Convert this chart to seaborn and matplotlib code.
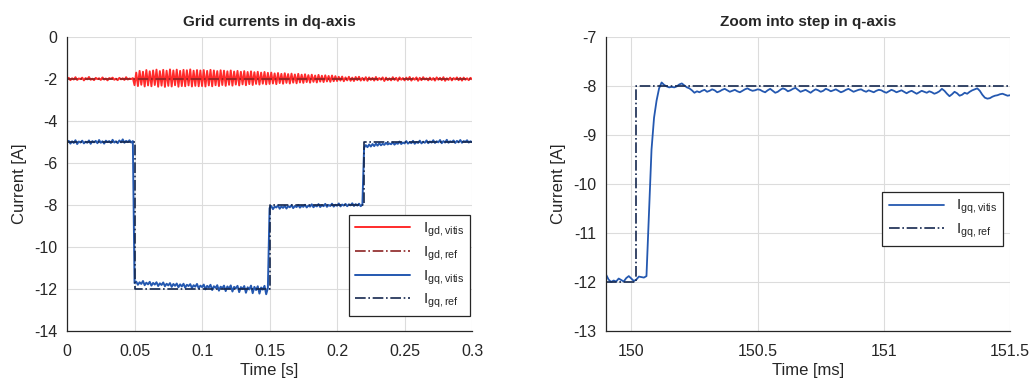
import matplotlib
matplotlib.use("Agg")
import matplotlib.pyplot as plt
import numpy as np
import seaborn as sns

# --- left panel: grid currents in dq-axis, sampled every 1.25 ms from 0 to 0.3 s ---
id_vitis = [
    -2.02, -1.95, -2.06, -1.97, -2.03, -1.92, -2.05, -1.98, -2.01, -1.94, -2.07, -1.96, -2.02, -1.91, -2.04, -1.99, -2.06, -1.95, -2.01, -1.97,
    -2.05, -1.93, -2.03, -1.98, -2.07, -1.96, -2.00, -1.94, -2.04, -1.99, -2.06, -1.95, -2.02, -1.97, -2.05, -1.92, -2.03, -1.98, -2.01, -1.96,
    -2.30, -1.70, -2.34, -1.62, -2.28, -1.66, -2.36, -1.58, -2.31, -1.64, -2.35, -1.60, -2.29, -1.56, -2.37, -1.63, -2.32, -1.57, -2.38, -1.61,
    -2.33, -1.55, -2.36, -1.60, -2.30, -1.56, -2.37, -1.62, -2.34, -1.57, -2.35, -1.59, -2.31, -1.55, -2.36, -1.61, -2.33, -1.58, -2.35, -1.60,
    -2.34, -1.58, -2.36, -1.62, -2.31, -1.57, -2.35, -1.60, -2.30, -1.63, -2.34, -1.59, -2.29, -1.61, -2.33, -1.64, -2.28, -1.60, -2.32, -1.65,
    -2.27, -1.62, -2.31, -1.66, -2.26, -1.63, -2.30, -1.67, -2.25, -1.64, -2.29, -1.68, -2.24, -1.66, -2.27, -1.70, -2.23, -1.67, -2.26, -1.71,
    -2.24, -1.70, -2.22, -1.74, -2.25, -1.72, -2.20, -1.76, -2.23, -1.73, -2.19, -1.77, -2.22, -1.75, -2.18, -1.79, -2.21, -1.76, -2.17, -1.80,
    -2.19, -1.78, -2.15, -1.82, -2.18, -1.80, -2.14, -1.84, -2.17, -1.81, -2.13, -1.85, -2.15, -1.83, -2.12, -1.86, -2.14, -1.84, -2.11, -1.87,
    -2.10, -1.90, -2.08, -1.89, -2.11, -1.93, -2.07, -1.90, -2.09, -1.94, -2.10, -1.91, -2.06, -1.90, -2.08, -1.95, -2.07, -1.92, -2.09, -1.93,
    -2.05, -1.95, -2.08, -1.91, -2.06, -1.96, -2.04, -1.93, -2.10, -1.94, -2.06, -1.97, -2.07, -1.92, -2.05, -1.95, -2.09, -1.93, -2.04, -1.96,
    -2.07, -1.94, -2.05, -1.91, -2.08, -1.96, -2.04, -1.93, -2.09, -1.95, -2.06, -1.92, -2.03, -1.97, -2.07, -1.94, -2.05, -1.96, -2.08, -1.93,
    -2.04, -1.95, -2.06, -1.92, -2.09, -1.97, -2.05, -1.94, -2.07, -1.96, -2.03, -1.93, -2.06, -1.95, -2.08, -1.94, -2.04, -1.97, -2.06, -1.95,
    -2.02,
]
iq_vitis = [
    -5.02, -4.95, -5.08, -4.97, -5.05, -4.92, -5.10, -4.98, -5.03, -4.94, -5.07, -4.99, -5.04, -4.93, -5.09, -4.96, -5.02, -4.95, -5.06, -4.91,
    -5.04, -4.97, -5.08, -4.94, -5.01, -4.96, -5.05, -4.90, -5.03, -4.97, -5.06, -4.93, -5.02, -4.88, -5.04, -4.95, -5.01, -4.92, -5.03, -4.96,
    -11.72, -11.65, -11.80, -11.68, -11.76, -11.62, -11.82, -11.70, -11.78, -11.66, -11.84, -11.71, -11.79, -11.68, -11.86, -11.73, -11.81, -11.69, -11.87, -11.75,
    -11.83, -11.72, -11.90, -11.76, -11.85, -11.74, -11.92, -11.78, -11.88, -11.75, -11.94, -11.80, -11.86, -11.77, -11.95, -11.82, -11.89, -11.76, -11.97, -11.84,
    -11.91, -11.79, -12.02, -11.85, -11.93, -11.80, -12.05, -11.87, -11.95, -11.82, -12.08, -11.89, -11.96, -11.84, -12.10, -11.88, -11.98, -11.83, -12.12, -11.90,
    -11.97, -11.85, -12.15, -11.91, -12.00, -11.86, -12.18, -11.92, -12.02, -11.84, -12.20, -11.90, -12.05, -11.87, -12.22, -11.93, -12.03, -11.85, -12.25, -11.95,
    -8.15, -8.05, -8.20, -8.08, -8.12, -8.02, -8.18, -8.07, -8.14, -8.04, -8.17, -8.06, -8.11, -8.01, -8.15, -8.05, -8.10, -8.00, -8.13, -8.04,
    -8.09, -7.99, -8.12, -8.03, -8.08, -7.97, -8.11, -8.02, -8.07, -7.96, -8.10, -8.01, -8.06, -7.95, -8.09, -8.00, -8.05, -7.94, -8.08, -7.99,
    -8.04, -7.93, -8.07, -7.98, -8.03, -7.95, -8.06, -7.97, -8.02, -7.92, -8.05, -7.96, -8.03, -7.94, -8.06, -7.98,
    -5.28, -5.15, -5.25, -5.12, -5.22, -5.10, -5.20, -5.08, -5.18, -5.06, -5.16, -5.09, -5.14, -5.04, -5.12, -5.07, -5.11, -5.02, -5.13, -5.05,
    -5.09, -4.98, -5.10, -5.03, -5.07, -4.96, -5.08, -5.01, -5.06, -4.95, -5.09, -5.00, -5.05, -4.94, -5.07, -4.99, -5.04, -4.93, -5.06, -4.98,
    -5.03, -4.92, -5.05, -4.97, -5.02, -4.91, -5.06, -4.96, -5.03, -4.90, -5.04, -4.97, -5.01, -4.93, -5.05, -4.95, -5.02, -4.91, -5.04, -4.96,
    -5.00, -4.92, -5.03, -4.97, -5.01,
]
id_ref_t = [0.0, 0.3]
id_ref = [-2.0, -2.0]
iq_ref_t = [0.0, 0.05, 0.05, 0.15, 0.15, 0.22, 0.22, 0.3]
iq_ref = [-5, -5, -12, -12, -8, -8, -5, -5]

# --- right panel: zoom into the q-axis step, sampled every 0.01 ms from 149.9 to 151.5 ms ---
iq_zoom = [
    -11.85, -11.95, -12.00, -11.97, -11.99, -11.93, -11.96, -11.99, -11.92, -11.88,
    -11.93, -11.98, -11.95, -11.89, -11.90, -11.91, -11.88, -10.60, -9.30, -8.65,
    -8.30, -8.05, -7.93, -7.98, -8.01, -8.03, -8.02, -8.03, -8.01, -7.97,
    -7.95, -7.99, -8.03, -8.05, -8.09, -8.14, -8.11, -8.13,
    -8.10, -8.08, -8.12, -8.10, -8.07, -8.09, -8.13, -8.11, -8.08, -8.06, -8.09, -8.12,
    -8.10, -8.08, -8.11, -8.13, -8.10, -8.07, -8.05, -8.08, -8.10, -8.09, -8.07,
    -8.08, -8.11, -8.13, -8.09, -8.06, -8.10, -8.14, -8.12, -8.08, -8.05,
    -8.07, -8.11, -8.09, -8.06, -8.04, -8.08, -8.12, -8.10, -8.08, -8.11,
    -8.14, -8.10, -8.07, -8.09, -8.12, -8.10, -8.06, -8.08, -8.11, -8.09,
    -8.07, -8.10, -8.13, -8.11, -8.08, -8.06, -8.09, -8.12, -8.10, -8.08,
    -8.07, -8.10, -8.12, -8.09, -8.11, -8.13, -8.10, -8.08, -8.09, -8.12,
    -8.14, -8.11, -8.08, -8.10, -8.13, -8.11, -8.09, -8.12, -8.15, -8.12,
    -8.10, -8.13, -8.16, -8.13, -8.10, -8.12, -8.14, -8.11, -8.13, -8.16,
    -8.14, -8.11, -8.06, -8.10, -8.16, -8.21, -8.17, -8.12, -8.15, -8.20,
    -8.18, -8.14, -8.16, -8.12, -8.09, -8.07, -8.05, -8.10, -8.18, -8.24,
    -8.26, -8.25, -8.22, -8.20, -8.19, -8.17, -8.16, -8.18, -8.20, -8.19,
]
iq_zoom_ref_t = [149.9, 150.02, 150.02, 151.5]
iq_zoom_ref = [-12, -12, -8, -8]

t_left = np.linspace(0, 0.3, len(id_vitis))
t_left_q = np.linspace(0, 0.3, len(iq_vitis))
t_zoom = np.linspace(149.9, 151.5, len(iq_zoom))

sns.set_style("whitegrid", {"grid.color": "#dcdcdc", "axes.edgecolor": "#262626"})
plt.rcParams["font.family"] = ["Liberation Sans", "DejaVu Sans"]
plt.rcParams["mathtext.default"] = "regular"
plt.rcParams["axes.unicode_minus"] = False
plt.rcParams["xtick.direction"] = "in"
plt.rcParams["ytick.direction"] = "in"

red = "#ff2b2b"
dark_red = "#8c2323"
blue = "#2458b0"
navy = "#15284f"

fig = plt.figure(figsize=(10.36, 3.87), dpi=100)
ax1 = fig.add_axes([0.0647, 0.1447, 0.391, 0.760])
ax2 = fig.add_axes([0.585, 0.1447, 0.390, 0.760])

sns.lineplot(x=t_left, y=id_vitis, ax=ax1, color=red, lw=1.4, estimator=None, sort=False, label="I$_{gd,vitis}$")
sns.lineplot(x=id_ref_t, y=id_ref, ax=ax1, color=dark_red, lw=1.2, ls="-.", estimator=None, sort=False, label="I$_{gd,ref}$")
sns.lineplot(x=t_left_q, y=iq_vitis, ax=ax1, color=blue, lw=1.4, estimator=None, sort=False, label="I$_{gq,vitis}$")
sns.lineplot(x=iq_ref_t, y=iq_ref, ax=ax1, color=navy, lw=1.2, ls="-.", estimator=None, sort=False, label="I$_{gq,ref}$")

ax1.set_xlim(0, 0.3)
ax1.set_ylim(-14, 0)
ax1.set_xticks([0, 0.05, 0.1, 0.15, 0.2, 0.25, 0.3])
ax1.set_xticklabels(["0", "0.05", "0.1", "0.15", "0.2", "0.25", "0.3"])
ax1.set_yticks(range(-14, 1, 2))
ax1.set_title("Grid currents in dq-axis", fontsize=11, fontweight="bold", pad=8)
ax1.set_xlabel("Time [s]", fontsize=12, labelpad=3)
ax1.set_ylabel("Current [A]", fontsize=12, labelpad=5)
leg1 = ax1.legend(loc="lower right", bbox_to_anchor=(0.995, 0.05), borderaxespad=0,
                  fontsize=11, handlelength=3.6, labelspacing=0.35, fancybox=False,
                  framealpha=1, edgecolor="#262626")
leg1.get_frame().set_linewidth(0.9)

sns.lineplot(x=t_zoom, y=iq_zoom, ax=ax2, color=blue, lw=1.3, estimator=None, sort=False, label="I$_{gq,vitis}$")
sns.lineplot(x=iq_zoom_ref_t, y=iq_zoom_ref, ax=ax2, color=navy, lw=1.2, ls="-.", estimator=None, sort=False, label="I$_{gq,ref}$")
ax2.set_xlim(149.9, 151.5)
ax2.set_ylim(-13, -7)
ax2.set_xticks([150, 150.5, 151, 151.5])
ax2.set_xticklabels(["150", "150.5", "151", "151.5"])
ax2.set_yticks(range(-13, -6))
ax2.set_title("Zoom into step in q-axis", fontsize=11, fontweight="bold", pad=8)
ax2.set_xlabel("Time [ms]", fontsize=12, labelpad=3)
ax2.set_ylabel("Current [A]", fontsize=12, labelpad=5)
leg2 = ax2.legend(loc="upper right", bbox_to_anchor=(0.983, 0.473), borderaxespad=0,
                  fontsize=11, handlelength=3.6, labelspacing=0.35, fancybox=False,
                  framealpha=1, edgecolor="#262626")
leg2.get_frame().set_linewidth(0.9)

for ax in (ax1, ax2):
    sns.despine(ax=ax)
    ax.spines["left"].set_linewidth(0.9)
    ax.spines["bottom"].set_linewidth(0.9)
    ax.tick_params(labelsize=11.5, colors="#262626", length=3, width=0.6)
    ax.tick_params(axis="x", pad=9)
    ax.tick_params(axis="y", pad=7)
    ax.grid(True, lw=0.8)

fig.savefig("out.png", dpi=100)
